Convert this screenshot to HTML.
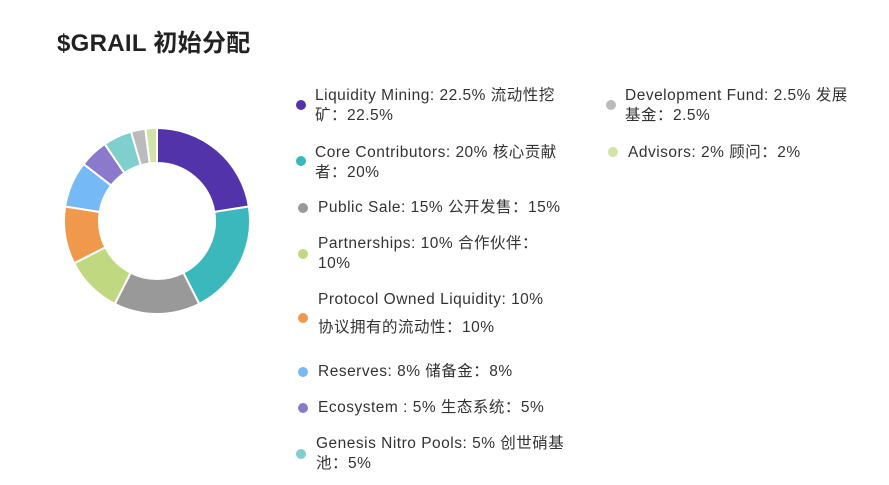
<!DOCTYPE html>
<html><head><meta charset="utf-8"><style>
body{margin:0;width:889px;height:485px;background:#fff;position:relative;overflow:hidden;font-family:"Liberation Sans","Noto Sans CJK SC",sans-serif;color:#222}
.t{position:absolute;left:57px;top:23px;font-size:24px;font-weight:bold;color:#222;letter-spacing:0.3px}
.it{position:absolute;font-size:15.5px;line-height:20px;color:#333;letter-spacing:0.5px;white-space:nowrap}
.d{position:absolute;width:10px;height:10px;border-radius:50%}
</style></head><body>
<div class="t">$GRAIL 初始分配</div>
<svg id="s" width="889" height="485" style="position:absolute;left:0;top:0"></svg>
<div class="d" style="left:296px;top:100px;background:#5233a9"></div><div class="it" style="left:315px;top:86px">Liquidity Mining: 22.5% 流动性挖<br>矿：22.5%</div>
<div class="d" style="left:296px;top:156px;background:#3bb8bb"></div><div class="it" style="left:315px;top:143px">Core Contributors: 20% 核心贡献<br>者：20%</div>
<div class="d" style="left:298px;top:203px;background:#999"></div><div class="it" style="left:318px;top:198px">Public Sale: 15% 公开发售：15%</div>
<div class="d" style="left:298px;top:249px;background:#c0d87f"></div><div class="it" style="left:318px;top:234px">Partnerships: 10% 合作伙伴：<br>10%</div>
<div class="d" style="left:298px;top:313px;background:#f0984b"></div><div class="it" style="left:318px;top:290px">Protocol Owned Liquidity: 10%</div><div class="it" style="left:318px;top:318px">协议拥有的流动性：10%</div>
<div class="d" style="left:298px;top:367px;background:#76b9f7"></div><div class="it" style="left:318px;top:362px">Reserves: 8% 储备金：8%</div>
<div class="d" style="left:298px;top:403px;background:#8b79cc"></div><div class="it" style="left:318px;top:398px">Ecosystem : 5% 生态系统：5%</div>
<div class="d" style="left:296px;top:449px;background:#7fcfcf"></div><div class="it" style="left:316px;top:434px">Genesis Nitro Pools: 5% 创世硝基<br>池：5%</div>
<div class="d" style="left:606px;top:100px;background:#bbb"></div><div class="it" style="left:625px;top:86px">Development Fund: 2.5% 发展<br>基金：2.5%</div>
<div class="d" style="left:608px;top:147px;background:#d3e2a8"></div><div class="it" style="left:628px;top:143px">Advisors: 2% 顾问：2%</div>
<script>
var v=[22.5,20,15,10,10,8,5,5,2.5,2],c=["#5233a9","#3bb8bb","#999999","#c0d87f","#f0984b","#76b9f7","#8b79cc","#7fcfcf","#bbbbbb","#d3e2a8"];
var cx=157,cy=221,R=93,r=58,a=-Math.PI/2,h="";
function p(rr,t){return (cx+rr*Math.cos(t)).toFixed(2)+","+(cy+rr*Math.sin(t)).toFixed(2)}
v.forEach(function(x,i){var b=a+x/100*2*Math.PI,l=x>50?1:0;
h+='<path d="M'+p(R,a)+' A'+R+','+R+' 0 '+l+' 1 '+p(R,b)+' L'+p(r,b)+' A'+r+','+r+' 0 '+l+' 0 '+p(r,a)+' Z" fill="'+c[i]+'" stroke="#fff" stroke-width="2"/>';a=b;});
document.getElementById("s").innerHTML=h;
</script>
</body></html>
